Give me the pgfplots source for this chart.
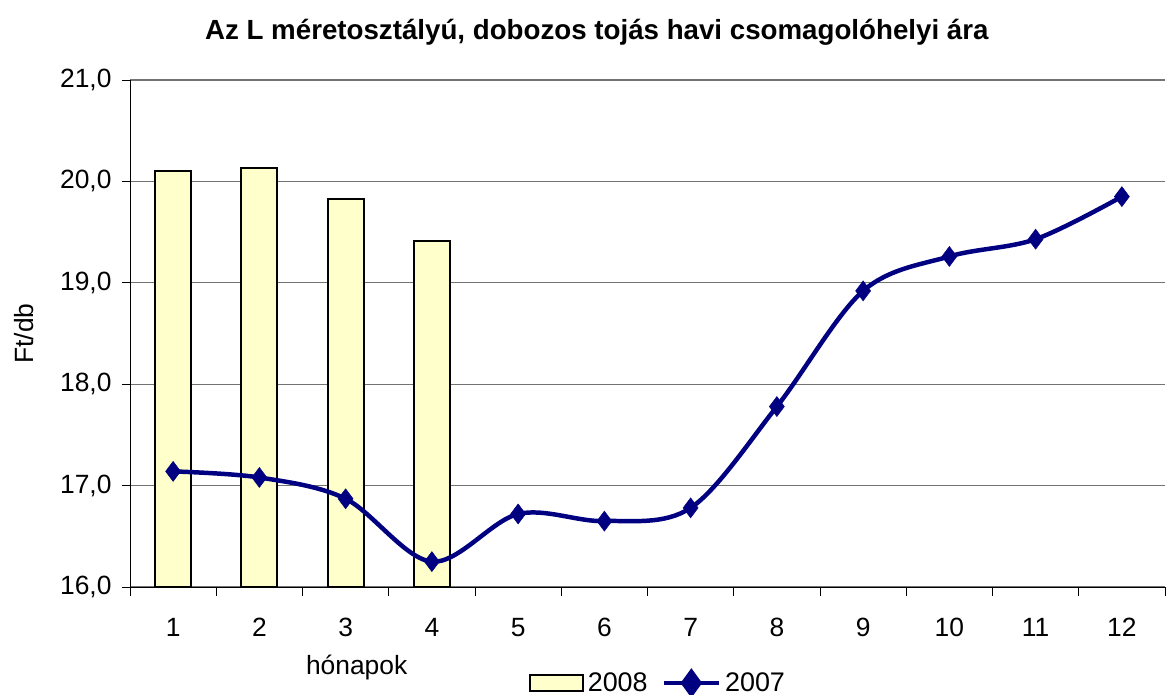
\documentclass[border=0pt]{standalone}
\usepackage{fontspec}
\setmainfont{Liberation Sans}
\usepackage{pgfplots}
\pgfplotsset{compat=1.18}
\definecolor{baryellow}{HTML}{FFFFCC}
\definecolor{navyline}{HTML}{000080}
\begin{document}
\begin{tikzpicture}
\path[use as bounding box] (0,0) rectangle (1166bp,695bp);
\begin{axis}[
  at={(130bp,108bp)}, anchor=south west,
  scale only axis, width=1035bp, height=507bp,
  xmin=0.5, xmax=12.5, ymin=16, ymax=21,
  axis x line*=bottom, axis y line*=left,
  axis line style={-, black, line width=1pt},
  xtick={1,...,12},
  xticklabels={1,2,3,4,5,6,7,8,9,10,11,12},
  minor xtick={0.5,1.5,...,12.5},
  major x tick style={draw=none},
  minor x tick style={black, line width=0.9pt},
  ytick={16,17,...,21},
  y tick style={black, line width=0.9pt},
  tick align=outside,
  major tick length=8bp, minor tick length=9bp,
  ymajorgrids, grid style={gray!90!black, line width=1.1pt},
  ticklabel style={font=\fontsize{26.5}{30}\selectfont},
  /pgf/number format/.cd, fixed, fixed zerofill, precision=1, use comma, assume math mode=true,
  /pgfplots/.cd,
  yticklabel style={xshift=-7bp},
  xticklabel style={yshift=-20bp},
  xlabel={hónapok},
  xlabel style={at={(axis description cs:0.219,0)}, anchor=center, yshift=-81bp, font=\fontsize{26.5}{30}\selectfont},
  ylabel={Ft/db},
  ylabel style={at={(axis description cs:-0.1024,0.5)}, anchor=center, font=\fontsize{26.5}{30}\selectfont},
  title={\bfseries Az L méretosztályú, dobozos tojás havi csomagolóhelyi ára},
  title style={at={(axis description cs:0.451,1)}, anchor=center, yshift=42bp, font=\fontsize{27.8}{31}\selectfont},
  legend columns=2,
  legend style={at={(axis description cs:0.511,0)}, anchor=center, xshift=0bp, yshift=-96bp, draw=none, fill=none,
    font=\fontsize{27}{30}\selectfont, inner sep=0pt,
    /tikz/every even column/.append style={column sep=10bp},
    nodes={inner xsep=4bp}},
  clip=false,
]
\addplot[ybar, bar width=36bp, fill=baryellow, draw=black, line width=2pt,
  legend image code/.code={\draw[fill=baryellow, draw=black, line width=2pt] (0bp,-8bp) rectangle (53bp,8bp);}]
  coordinates {(1,20.10) (2,20.13) (3,19.83) (4,19.41)};
\addlegendentry{2008}
\addplot[navyline, line width=4.5pt, smooth, tension=0.55, mark=diamond*, mark size=10bp,
  mark options={fill=navyline, draw=navyline, line width=0.5pt},
  legend image code/.code={\draw[navyline, line width=4.5pt] (0bp,0bp) -- (55bp,0bp); \fill[navyline] (27.5bp,-11bp) -- (35.5bp,0bp) -- (27.5bp,11bp) -- (19.5bp,0bp) -- cycle;}]
  coordinates {(1,17.14) (2,17.08) (3,16.87) (4,16.25) (5,16.72) (6,16.65) (7,16.78) (8,17.78) (9,18.92) (10,19.26) (11,19.43) (12,19.85)};
\addlegendentry{2007}
\end{axis}
\end{tikzpicture}
\end{document}
